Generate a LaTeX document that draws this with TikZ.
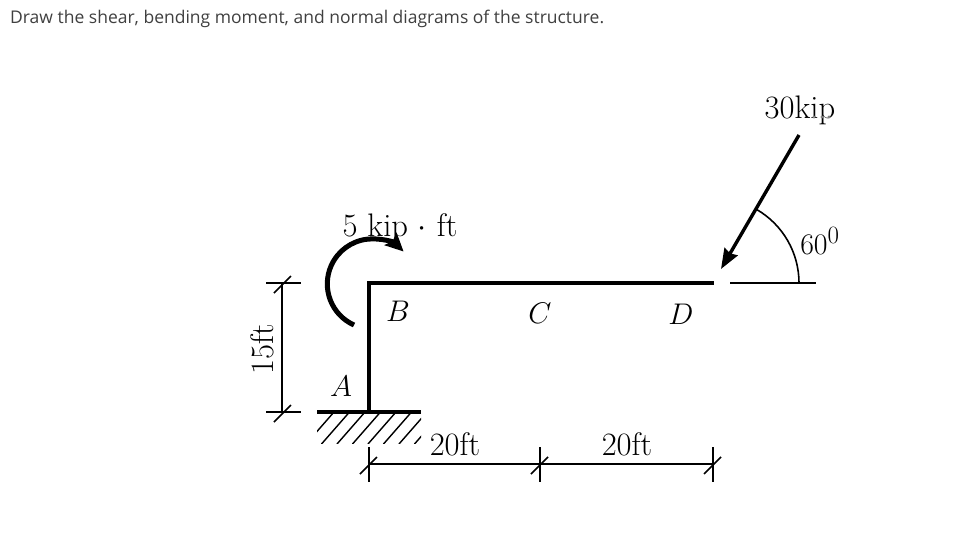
\documentclass[tikz,border=0pt]{standalone}
\usepackage{fontspec}
\newfontfamily\titlefont{Open Sans}
\usetikzlibrary{arrows.meta,calc}
\definecolor{titlegray}{HTML}{404040}
\tikzset{
  member/.style={line width=4.5pt,line cap=butt,line join=miter},
  thin dim/.style={line width=1.6pt},
  ground/.style={line width=3.5pt},
  hatch/.style={line width=1.4pt},
  force/.style={line width=3.4pt,-{Stealth[length=20pt,width=15pt,inset=2pt]}},
  lab/.style={inner sep=0pt,font=\fontsize{24.88}{30}\selectfont,text=black,scale=1.31},
  mathlab/.style={inner sep=0pt,font=\fontsize{24.88}{30}\selectfont,text=black,scale=1.2},
}
\begin{document}
\begin{tikzpicture}[x=1pt,y=-1pt]
\useasboundingbox (0,0) rectangle (960,541);
\fill[white] (0,0) rectangle (960,541);
\node[anchor=base west,inner sep=0pt,font=\titlefont\fontsize{17.5}{20}\selectfont,text=titlegray] (title) at (10,23) {Draw the shear, bending moment, and normal diagrams of the structure.};
% key points
\coordinate (A) at (369,412);
\coordinate (B) at (369,283);
\coordinate (D) at (714,283);
\coordinate (G1) at (317,412);
\coordinate (G2) at (421,412);
% hatching
\begin{scope}
\clip (317,413) rectangle (421,443);
\foreach \i in {0,...,8}{
  \draw[hatch] ($(G1)+(\i*15.5-11,32)$) -- ++(28,-32);
}
\end{scope}
% structure
\draw[ground] (G1) -- (G2);
\draw[member] (A) -- (B) -- (D);
% moment
\draw[line width=5pt,-{Stealth[length=18pt,width=17pt,inset=3pt]}] (354,325) arc[start angle=114,end angle=314,radius=45];
% force
\coordinate (Ftail) at (799,135);
\coordinate (Ftip) at (721,269);
\draw[force] (Ftail) -- (Ftip);
\coordinate (H1) at (730,283);
\coordinate (H2) at (816,283);
\draw[thin dim] (H1) -- (H2);
\draw[thin dim] (799,283) arc[start angle=0,end angle=-60,radius=85];
% left dimension
\coordinate (L1) at (282,283);
\coordinate (L2) at (282,412);
\draw[thin dim] (L1) -- (L2);
\draw[thin dim] ($(L1)+(-16,0)$) -- ++(35,0);
\draw[thin dim] ($(L2)+(-16,0)$) -- ++(35,0);
\draw[thin dim] ($(L1)+(-8,10)$) -- ++(17,-17);
\draw[thin dim] ($(L2)+(-8,10)$) -- ++(17,-17);
% bottom dimension
\coordinate (M1) at (369,464);
\coordinate (M2) at (540,464);
\coordinate (M3) at (713,464);
\draw[thin dim] (M1) -- (M3);
\foreach \p in {M1,M2,M3}{
  \draw[thin dim] ($(\p)+(0,-17)$) -- ++(0,35);
  \draw[thin dim] ($(\p)+(-9,10)$) -- ++(17,-17);
}
% labels
\node[lab] (l30) at (800,110) {30kip};
\fill[gray] (814,117) circle (1.6) (822,117) circle (1.6) (829,117) circle (1.6);
\node[mathlab] (l60) at (820,241) {$60^0$};
\node[lab] (l5) at (400,228) {5 kip $\cdot$ ft};
\node[mathlab] (lB) at (398,311) {$B$};
\node[mathlab] (lC) at (540,313) {$C$};
\node[mathlab] (lD) at (681,314) {$D$};
\node[mathlab] (lA) at (341,386) {$A$};
\node[lab] (l20a) at (455,444) {20ft};
\node[lab] (l20b) at (627,444) {20ft};
\node[lab,rotate=90] (l15) at (262,349) {15ft};
\end{tikzpicture}
\end{document}
